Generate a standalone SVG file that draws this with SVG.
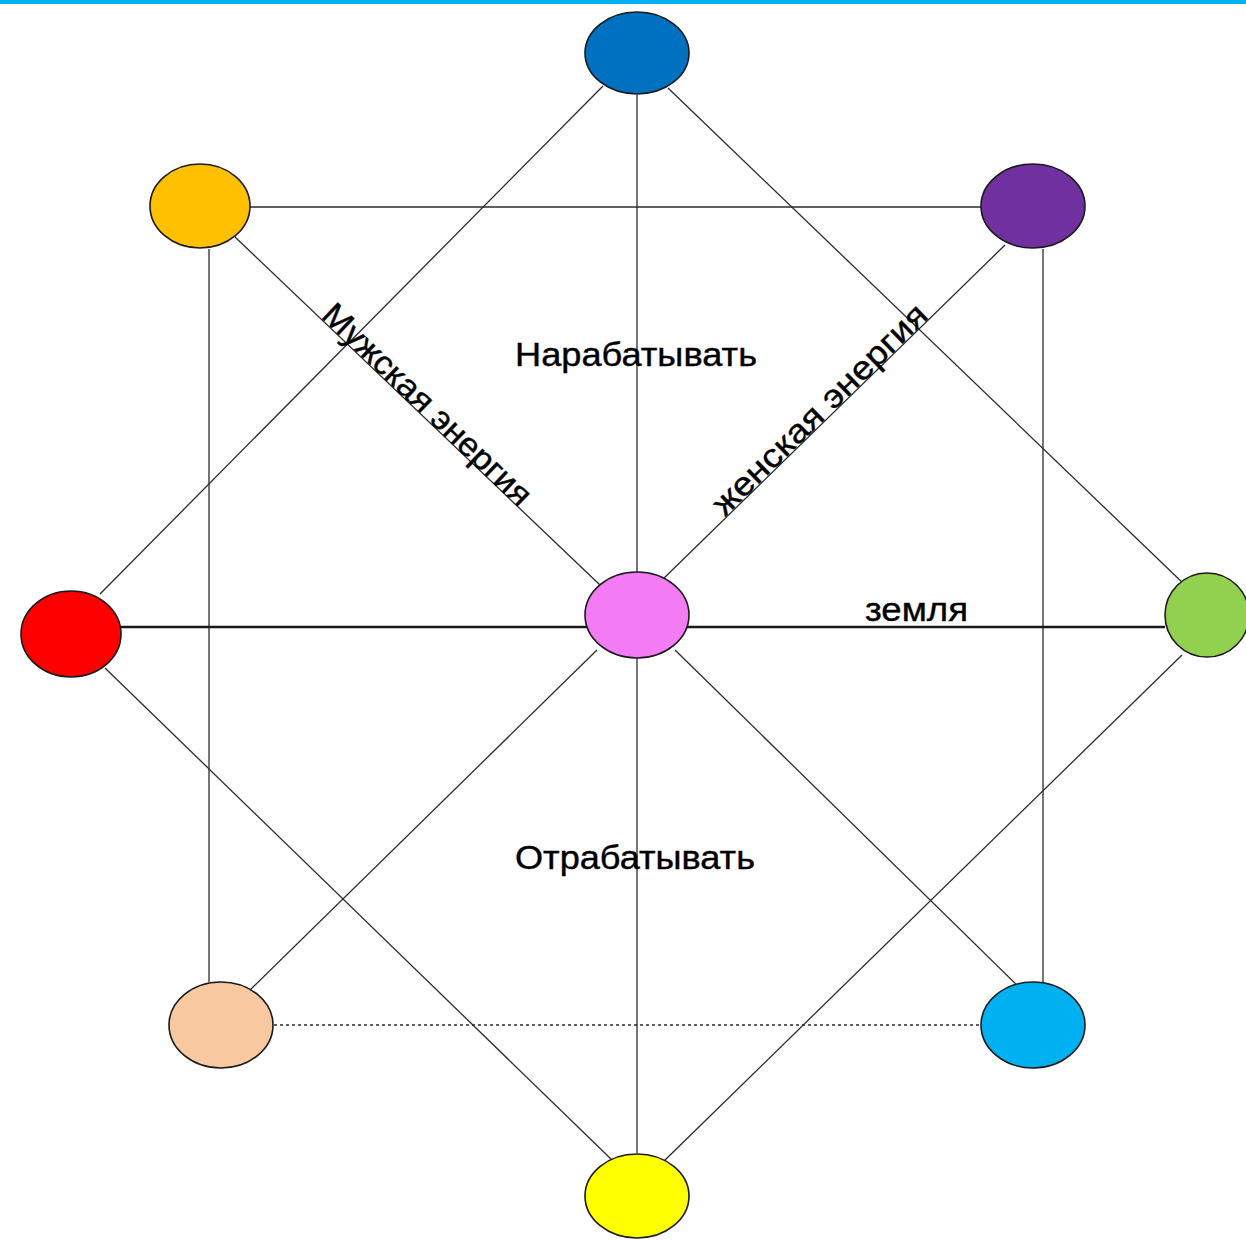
<svg xmlns="http://www.w3.org/2000/svg" width="1246" height="1240" viewBox="0 0 1246 1240">
<style>
.ln{stroke:#2a2a2a;stroke-width:1.3;fill:none}
.thick{stroke:#1a1a1a;stroke-width:2.6}
.dot{stroke-dasharray:3 3}
.nd{stroke:#1a1a1a;stroke-width:1.6}
.lbl{font-family:"Liberation Sans",Arial,sans-serif;font-size:33px;fill:#000;stroke:#000;stroke-width:0.4}
</style>
<rect x="0" y="0" width="1246" height="4" fill="#00B0F0"/>
<g id="connectors">
<line class="ln" x1="637" y1="95" x2="637" y2="1153"/>
<line class="ln" x1="603" y1="86" x2="100" y2="594"/>
<line class="ln" x1="668" y1="88" x2="1185" y2="585"/>
<line class="ln" x1="250" y1="207" x2="981" y2="207"/>
<line class="ln" x1="209" y1="249" x2="209" y2="982"/>
<line class="ln" x1="1043" y1="249" x2="1043" y2="982"/>
<line class="ln" x1="235" y1="237" x2="600" y2="585"/>
<line class="ln" x1="1005" y1="245" x2="660" y2="582"/>
<line class="ln thick" x1="121" y1="627" x2="1165" y2="627"/>
<line class="ln" x1="105" y1="668" x2="612" y2="1160"/>
<line class="ln" x1="597" y1="650" x2="250" y2="990"/>
<line class="ln" x1="675" y1="650" x2="1020" y2="988"/>
<line class="ln" x1="1182" y1="655" x2="663" y2="1162"/>
<line class="ln dot" x1="274" y1="1025" x2="981" y2="1025"/>
</g>
<g id="n-top"><ellipse class="nd" cx="637" cy="53" rx="52" ry="41" fill="#0070C0"/></g>
<g id="n-orange"><ellipse class="nd" cx="200" cy="206" rx="50" ry="42" fill="#FFC000"/></g>
<g id="n-purple"><ellipse class="nd" cx="1033" cy="206" rx="52" ry="42" fill="#7030A0"/></g>
<g id="n-red"><ellipse class="nd" cx="71" cy="634" rx="50" ry="43" fill="#FF0000"/></g>
<g id="n-center"><ellipse class="nd" cx="637" cy="615" rx="52" ry="43" fill="#F37BF3"/></g>
<g id="n-green"><ellipse class="nd" cx="1207" cy="615" rx="42" ry="42" fill="#92D050"/></g>
<g id="n-peach"><ellipse class="nd" cx="221" cy="1025" rx="52" ry="43" fill="#F8C9A0"/></g>
<g id="n-lightblue"><ellipse class="nd" cx="1033" cy="1025" rx="52" ry="43" fill="#00B0F0"/></g>
<g id="n-yellow"><ellipse class="nd" cx="637" cy="1196" rx="52" ry="42" fill="#FFFF00"/></g>
<g id="labels">
<text class="lbl" x="515" y="366" textLength="242" lengthAdjust="spacingAndGlyphs">Нарабатывать</text>
<text class="lbl" x="515" y="869" textLength="240" lengthAdjust="spacingAndGlyphs">Отрабатывать</text>
<text class="lbl" x="865" y="621" textLength="103" lengthAdjust="spacingAndGlyphs">земля</text>
<text class="lbl" transform="translate(320,317) rotate(43.8)" x="0" y="0" textLength="276" lengthAdjust="spacingAndGlyphs">Мужская энергия</text>
<text class="lbl" transform="translate(725,517) rotate(-44.3)" x="0" y="0" textLength="286" lengthAdjust="spacingAndGlyphs">женская энергия</text>
</g>
</svg>
